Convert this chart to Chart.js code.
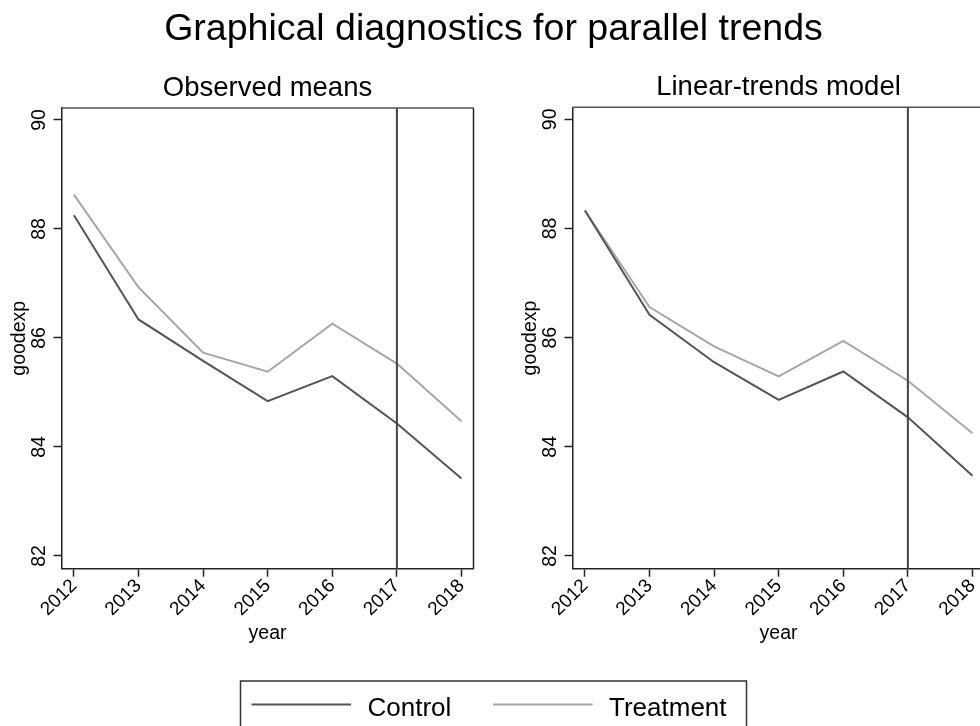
<!DOCTYPE html>
<html>
<head>
<meta charset="utf-8">
<title>Graphical diagnostics for parallel trends</title>
<script src="https://cdn.jsdelivr.net/npm/chart.js@4.4.1/dist/chart.umd.min.js"></script>
<style>
  html, body { margin: 0; padding: 0; background: #fff; overflow: hidden; width: 980px; height: 726px; }
  #wrap { position: relative; width: 980px; height: 726px; overflow: hidden; }
  canvas { position: absolute; top: 0; }
  #observed { left: 0; }
  #linear { left: 511px; }
</style>
</head>
<body>
<div id="wrap">
  <canvas id="observed" width="980" height="726"></canvas>
  <canvas id="linear" width="490" height="726"></canvas>
</div>
<script>
// ---- data ----
const years = [2012, 2013, 2014, 2015, 2016, 2017, 2018];
const yTicks = [82, 84, 86, 88, 90];
const treatmentStart = 2017;

const observedControl   = [88.25, 86.34, 85.58, 84.84, 85.30, 84.43, 83.42];
const observedTreatment = [88.63, 86.93, 85.73, 85.38, 86.26, 85.53, 84.47];
const linearControl     = [88.33, 86.42, 85.55, 84.86, 85.38, 84.54, 83.47];
const linearTreatment   = [88.33, 86.56, 85.84, 85.29, 85.94, 85.21, 84.25];

const seriesNames  = ['Control', 'Treatment'];
const seriesColors = ['#555555', '#a6a6a6'];
const mainTitle   = 'Graphical diagnostics for parallel trends';
const panelTitles = ['Observed means', 'Linear-trends model'];
const xTitle = 'year';
const yTitle = 'goodexp';

// ---- axis ranges (plot region slightly wider than the ticks) ----
const xMin = 2011.808, xMax = 2018.186;
const yMin = 81.767,  yMax = 90.22;

const FONT = "'Liberation Sans', Arial, Helvetica, sans-serif";
Chart.defaults.font.family = FONT;
Chart.defaults.color = '#000';

// top / right frame of the plot region and the treatment-start marker
const frameAndMarker = {
  id: 'frameAndMarker',
  beforeDatasetsDraw(chart) {
    const { ctx, chartArea: a } = chart;
    ctx.save();
    ctx.lineWidth = 1.5;
    ctx.strokeStyle = '#555';
    ctx.beginPath(); ctx.moveTo(a.left, a.top); ctx.lineTo(a.right, a.top); ctx.stroke();
    ctx.strokeStyle = '#222';
    ctx.beginPath(); ctx.moveTo(a.right, a.top); ctx.lineTo(a.right, a.bottom); ctx.stroke();
    ctx.restore();
  },
  afterDatasetsDraw(chart) {
    const { ctx, chartArea: a } = chart;
    const px = chart.scales.x.getPixelForValue(treatmentStart);
    ctx.save();
    ctx.strokeStyle = '#444';
    ctx.lineWidth = 2;
    ctx.beginPath(); ctx.moveTo(px, a.top); ctx.lineTo(px, a.bottom); ctx.stroke();
    ctx.restore();
  }
};

// vertical (rotated) y tick labels
const rotatedYLabels = {
  id: 'rotatedYLabels',
  afterDraw(chart) {
    const { ctx, chartArea: a } = chart;
    const s = chart.scales.y;
    ctx.save();
    ctx.fillStyle = '#000';
    ctx.font = '19.5px ' + FONT;
    ctx.textAlign = 'center';
    ctx.textBaseline = 'alphabetic';
    yTicks.forEach(v => {
      const py = s.getPixelForValue(v);
      ctx.save();
      ctx.translate(a.left - 17, py);
      ctx.rotate(-Math.PI / 2);
      ctx.fillText(String(v), 0, 0);
      ctx.restore();
    });
    ctx.restore();
  }
};

// boxed legend spanning both panels
const boxLegend = {
  id: 'boxLegend',
  afterDraw(chart) {
    const ctx = chart.ctx;
    const w = 506;
    const cx = (7 + chart.width) / 2;
    const left = cx - w / 2, top = 681;
    ctx.save();
    ctx.strokeStyle = '#333';
    ctx.lineWidth = 1.5;
    ctx.strokeRect(left, top, w, 70);
    chart.data.datasets.forEach((ds, i) => {
      const x0 = left + 11 + i * 241.5;
      ctx.strokeStyle = ds.borderColor;
      ctx.lineWidth = 2;
      ctx.beginPath(); ctx.moveTo(x0, 704.5); ctx.lineTo(x0 + 99.6, 704.5); ctx.stroke();
      ctx.fillStyle = '#000';
      ctx.font = '26px ' + FONT;
      ctx.textAlign = 'left';
      ctx.textBaseline = 'alphabetic';
      ctx.fillText(ds.label, x0 + 116, 715.5);
    });
    ctx.restore();
  }
};

function makePanel(canvasId, panelTitle, control, treatment, withMainTitle, rightSpace) {
  const series = [control, treatment];
  return new Chart(document.getElementById(canvasId), {
    type: 'line',
    data: {
      datasets: series.map((vals, k) => ({
        label: seriesNames[k],
        data: years.map((x, i) => ({ x: x, y: vals[i] })),
        borderColor: seriesColors[k],
        backgroundColor: seriesColors[k],
        borderWidth: 2,
        pointRadius: 0,
        tension: 0,
        fill: false
      }))
    },
    options: {
      responsive: false,
      animation: false,
      events: [],
      layout: { padding: { left: 7, right: 0, top: withMainTitle ? 0 : 51.7, bottom: 80.5 } },
      plugins: {
        legend: { display: false },
        tooltip: { enabled: false },
        title: {
          display: withMainTitle,
          text: mainTitle,
          color: '#000',
          font: { size: 37.5, weight: 'normal' },
          padding: { top: 7.3, bottom: 0 }
        },
        subtitle: {
          display: true,
          text: panelTitle,
          fullSize: false,
          color: '#000',
          font: { size: 27.5, weight: 'normal' },
          padding: { top: 19.4, bottom: 3.2 }
        }
      },
      scales: {
        x: {
          type: 'linear',
          position: 'bottom',
          min: xMin,
          max: xMax,
          afterBuildTicks: s => { s.ticks = years.map(v => ({ value: v })); },
          afterFit: s => { s.height = 76.8; },
          ticks: {
            autoSkip: false,
            minRotation: 45,
            maxRotation: 45,
            padding: -2,
            color: '#000',
            font: { size: 19 },
            callback: v => String(v)
          },
          grid: { drawOnChartArea: false, drawTicks: true, tickLength: 8, tickColor: '#222', tickWidth: 1.5 },
          border: { display: true, color: '#222', width: 1.5 },
          title: { display: true, text: xTitle, color: '#000', font: { size: 19.5 }, padding: { top: 0, bottom: 0 } }
        },
        y: {
          type: 'linear',
          position: 'left',
          min: yMin,
          max: yMax,
          afterBuildTicks: s => { s.ticks = yTicks.map(v => ({ value: v })); },
          afterFit: s => { s.width = 54.5; },
          ticks: { display: false },
          grid: { drawOnChartArea: false, drawTicks: true, tickLength: 8, tickColor: '#222', tickWidth: 1.5 },
          border: { display: true, color: '#222', width: 1.5 },
          title: { display: true, text: yTitle, color: '#000', font: { size: 19.5 }, padding: { top: 1, bottom: 0 } }
        },
        gap: {
          type: 'linear',
          position: 'right',
          display: true,
          ticks: { display: false },
          grid: { display: false },
          border: { display: false },
          afterFit: s => { s.width = rightSpace; }
        }
      }
    },
    plugins: withMainTitle
      ? [frameAndMarker, rotatedYLabels, boxLegend]
      : [frameAndMarker, rotatedYLabels]
  });
}

makePanel('observed', panelTitles[0], observedControl, observedTreatment, true, 980 - 473.5);
makePanel('linear', panelTitles[1], linearControl, linearTreatment, false, 490 - 473.5);
</script>
</body>
</html>
